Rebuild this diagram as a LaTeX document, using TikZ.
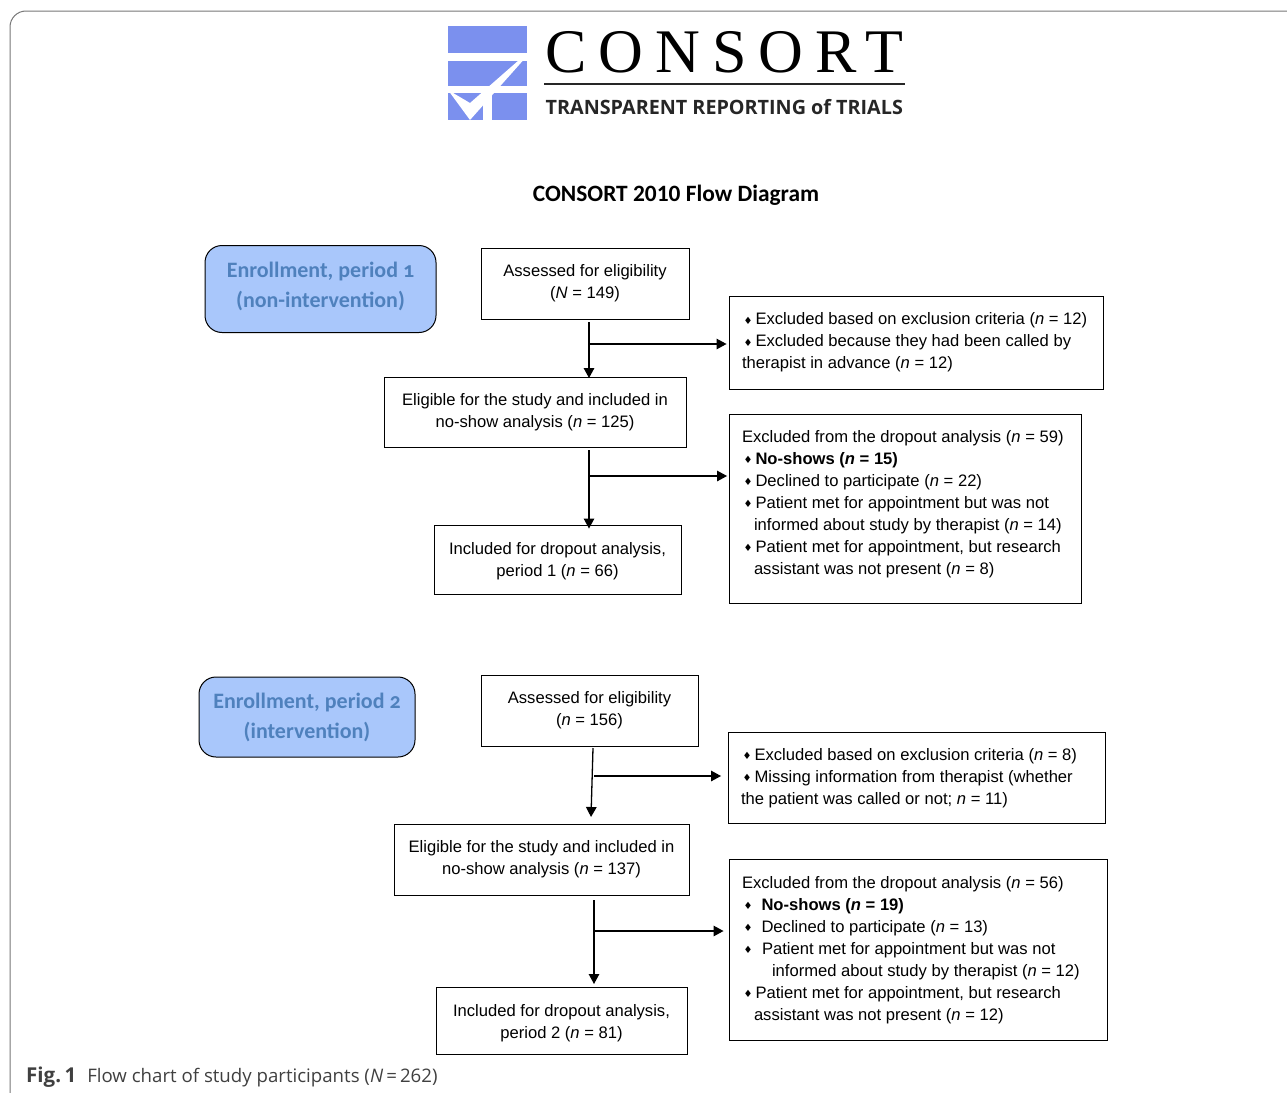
\documentclass[tikz,border=0pt]{standalone}
\usepackage{fontspec}
\setmainfont{Liberation Sans}
\newfontfamily\logoserif{Liberation Serif}
\newfontfamily\logosans{Open Sans}
\newfontfamily\calib{Carlito}
\newfontfamily\calibold[Numbers=OldStyle]{Carlito}
\newfontfamily\capfont{Open Sans}
\newfontfamily\dejavu{DejaVu Sans}
\usetikzlibrary{arrows.meta}
\definecolor{logoblue}{HTML}{7B90EE}
\definecolor{enrfill}{HTML}{A9C7FB}
\definecolor{enrtext}{HTML}{4F81BD}
\definecolor{framegrey}{HTML}{777777}
\newcommand{\bul}{\makebox[13.5pt][l]{\hspace{1.5pt}\raisebox{0.5pt}{\dejavu\fontsize{10}{10}\selectfont ♦}}}
\newcommand{\dnrule}[1]{\rule[-#1pt]{0pt}{#1pt}}
\newcommand{\uprule}[1]{\rule{0pt}{#1pt}}
\tikzset{
  x=1pt,y=-1pt,
  box/.style={draw=black,line width=0.9pt,inner sep=0pt,align=center,font=\fontsize{16.6}{22}\selectfont},
  lbox/.style={box,align=flush left,inner xsep=13pt,inner ysep=0pt},
  enroll/.style={draw=black,line width=1pt,fill=enrfill,rounded corners=17pt,align=center,inner sep=0pt,
    text=enrtext,font=\calibold\bfseries\fontsize{22}{30}\selectfont},
  flow/.style={draw=black,line width=1.3pt,-{Triangle[length=10pt,width=10.5pt]}}
}
\begin{document}
\begin{tikzpicture}
\useasboundingbox (0,0) rectangle (1287,1092);
% frame
\draw[framegrey,line width=1pt,rounded corners=16pt] (10,1110) -- (10,11) -- (1300,11);
% logo
\fill[logoblue] (448,26) rectangle (527,53);
\fill[logoblue] (448,61) rectangle (527,86);
\fill[logoblue] (448,93) rectangle (483,120);
\fill[logoblue] (492,93) rectangle (527,120);
\fill[white] (448,90) -- (470,103) -- (527,53) -- (527,56) -- (470,120) -- cycle;
\node[anchor=base west,inner sep=0pt,font=\logoserif\fontsize{62}{62}\selectfont\addfontfeature{LetterSpace=19.5}] (logoname) at (545,72) {CONSORT};
\node[anchor=base west,inner sep=0pt,text=black!85,font=\logosans\bfseries\fontsize{19.75}{24}\selectfont] (logotag) at (545.5,114.5) {TRANSPARENT REPORTING of TRIALS};
\draw[line width=2pt,black!85] (544,83.5) -- (905,83.5);
% title
\node[font=\calib\bfseries\fontsize{23.4}{26}\selectfont,inner sep=0pt] (title) at (676,195.5) {CONSORT 2010 Flow Diagram};
% period 1
\node[enroll,minimum width=231,minimum height=87] (e1) at (320.5,289) {Enrollment, period 1\\(non-intervention)\dnrule{8}};
\node[box,minimum width=208,minimum height=71] (a1) at (585,283.5) {Assessed for eligibility\\(\textit{N} = 149)};
\node[box,minimum width=302,minimum height=70] (b1) at (535,412) {Eligible for the study and included in\\no-show analysis (\textit{n} = 125)};
\node[box,minimum width=247,minimum height=69] (c1) at (557.5,559.5) {\uprule{14.5}Included for dropout analysis,\\period 1 (\textit{n} = 66)};
\node[lbox,text width=348pt,minimum height=93] (x1) at (916,342.5) {\bul Excluded based on exclusion criteria (\textit{n} = 12)\\\bul Excluded because they had been called by\\therapist in advance (\textit{n} = 12)};
\node[lbox,text width=326pt,minimum height=189] (x2) at (905,508.5) {Excluded from the dropout analysis (\textit{n} = 59)\\\bul\textbf{No-shows (\textit{n} = 15)}\\\bul Declined to participate (\textit{n} = 22)\\\bul Patient met for appointment but was not\\\hspace{12pt}informed about study by therapist (\textit{n} = 14)\\\bul Patient met for appointment, but research\\\hspace{12pt}assistant was not present (\textit{n} = 8)\dnrule{12.5}};
% period 2
\node[enroll,minimum width=216,minimum height=80] (e2) at (307,717) {\uprule{17}Enrollment, period 2\\(intervention)};
\node[box,minimum width=217,minimum height=71] (a2) at (589.5,710.5) {Assessed for eligibility\\(\textit{n} = 156)};
\node[box,minimum width=295,minimum height=71] (b2) at (541.5,859.5) {Eligible for the study and included in\\no-show analysis (\textit{n} = 137)};
\node[box,minimum width=251,minimum height=67] (c2) at (561.5,1020.5) {\uprule{16.5}Included for dropout analysis,\\period 2 (\textit{n} = 81)};
\node[lbox,text width=351pt,minimum height=91] (x3) at (916.5,777.5) {\uprule{13}\bul Excluded based on exclusion criteria (\textit{n} = 8)\\\bul Missing information from therapist (whether\\the patient was called or not; \textit{n} = 11)};
\node[lbox,text width=352pt,minimum height=181] (x4) at (918,949.5) {\uprule{13}Excluded from the dropout analysis (\textit{n} = 56)\\\bul\hspace{6pt}\textbf{No-shows (\textit{n} = 19)}\\\bul\hspace{6pt}Declined to participate (\textit{n} = 13)\\\bul\hspace{6.5pt}Patient met for appointment but was not\\\hspace{30pt}informed about study by therapist (\textit{n} = 12)\\\bul Patient met for appointment, but research\\\hspace{12pt}assistant was not present (\textit{n} = 12)};
% connector ends
\coordinate (a1o) at (589,322);
\coordinate (b1o) at (589,450);
\coordinate (a2o) at (593,748);
\coordinate (b2o) at (594,900);
\coordinate (a1b) at (589,344);
\coordinate (b1b) at (589,476);
\coordinate (a2b) at (594,776);
\coordinate (b2b) at (595,931);
\coordinate (b2i) at (591,817);
\coordinate (c2i) at (594,984);
% connectors
\draw[flow] (a1o) -- ([yshift=-1.5pt]a1o |- b1.north);
\draw[flow] (a1b) -- ([xshift=-2pt]x1.west |- a1b);
\draw[flow] (b1o) -- ([yshift=-4pt]b1o |- c1.north);
\draw[flow] (b1b) -- ([xshift=-1.5pt]x2.west |- b1b);
\draw[flow] (a2o) -- (b2i);
\draw[flow] (a2b) -- ([xshift=-6.5pt]x3.west |- a2b);
\draw[flow] (b2o) -- (c2i);
\draw[flow] (b2b) -- ([xshift=-5pt]x4.west |- b2b);
% caption
\node[anchor=base west,inner sep=0pt,text=black!75,font=\capfont\fontsize{18.65}{24}\selectfont] (cap) at (26,1082) {\textbf{\fontsize{20.5}{24}\selectfont Fig.\,1}\hspace{11pt}Flow chart of study participants (\textit{N}\,=\,262)};
\end{tikzpicture}
\end{document}
